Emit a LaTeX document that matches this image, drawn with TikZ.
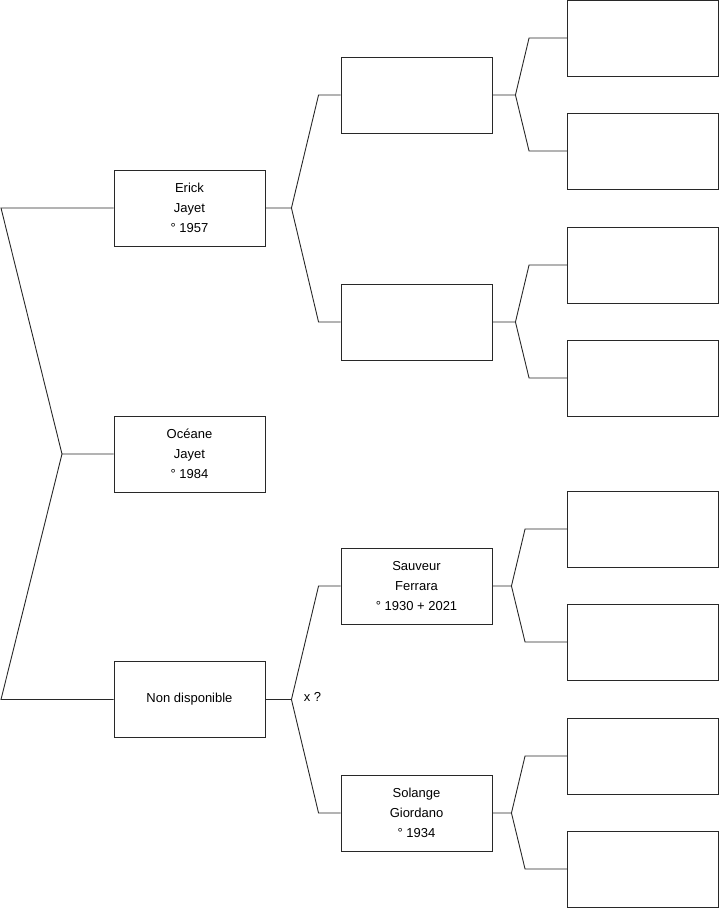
\documentclass[tikz,border=0pt]{standalone}
\usepackage{fontspec}
\setmainfont{Liberation Sans}
\usepackage{tikz}
\usetikzlibrary{positioning}
\definecolor{trait}{RGB}{40,40,40}

% fourche : source, haut, bas, longueur du talon, retrait avant les boites
\newcommand{\fourche}[5]{%
    \draw[lien] (#1.east) -- ++(#4,0) coordinate (#1-f) -- ([xshift=-#5pt]#2.west) -- (#2.west);
    \draw[lien] (#1-f) -- ([xshift=-#5pt]#3.west) -- (#3.west);
}

\begin{document}
\begin{tikzpicture}[x=1pt, y=-1pt,
    personne/.style={draw=trait, line width=0.9pt, minimum width=151pt, minimum height=76pt, inner sep=0pt, align=center, font=\fontsize{13}{20}\selectfont},
    lien/.style={draw=trait, line width=0.9pt}
]
    \useasboundingbox (0,0) rectangle (719,908);

    % generation 1
    \node[personne] (erick) at (189.5, 208) {Erick\\Jayet\\° 1957};
    \node[personne] (oceane) at (189.5, 454) {Océane\\Jayet\\° 1984};
    \node[personne] (nondispo) at (189.5, 699.5) {Non disponible};

    % generation 2
    \node[personne] (pe) at (416.5, 95) {};
    \node[personne] (me) at (416.5, 322) {};
    \node[personne] (sauveur) at (416.5, 586) {Sauveur\\Ferrara\\° 1930 + 2021};
    \node[personne] (solange) at (416.5, 813) {Solange\\Giordano\\° 1934};

    % generation 3
    \node[personne] (g1) at (643, 38) {};
    \node[personne] (g2) at (643, 151) {};
    \node[personne] (g3) at (643, 265) {};
    \node[personne] (g4) at (643, 378) {};
    \node[personne] (g5) at (643, 529) {};
    \node[personne] (g6) at (643, 642) {};
    \node[personne] (g7) at (643, 756) {};
    \node[personne] (g8) at (643, 869) {};

    % branche de gauche
    \coordinate (pointe) at (62, 454);
    \coordinate (hautg) at (1, 208);
    \coordinate (basg) at (1, 699.5);
    \draw[lien] (erick.west) -- (hautg) -- (pointe) -- (oceane.west);
    \draw[lien] (pointe) -- (basg) -- (nondispo.west);

    \fourche{erick}{pe}{me}{26}{22}
    \fourche{nondispo}{sauveur}{solange}{26}{22}
    \fourche{pe}{g1}{g2}{23}{38}
    \fourche{me}{g3}{g4}{23}{38}
    \fourche{sauveur}{g5}{g6}{19}{42}
    \fourche{solange}{g7}{g8}{19}{42}

    \node[font=\fontsize{13}{15}\selectfont, inner sep=0pt] (union) at (312.5, 697) {x ?};
\end{tikzpicture}
\end{document}
